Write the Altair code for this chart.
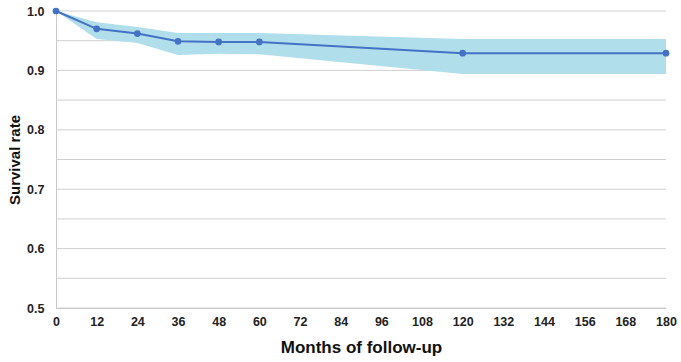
import altair as alt
import pandas as pd

# Follow-up time points (months) with survival estimate and confidence band
months = [0, 12, 24, 36, 48, 60, 120, 180]
survival = [1.000, 0.970, 0.962, 0.949, 0.948, 0.948, 0.929, 0.929]
ci_lower = [1.000, 0.953, 0.946, 0.926, 0.928, 0.927, 0.894, 0.894]
ci_upper = [1.000, 0.981, 0.973, 0.963, 0.963, 0.963, 0.953, 0.953]

x_ticks = list(range(0, 181, 12))
y_grid = [round(0.5 + 0.05 * i, 2) for i in range(11)]
y_labels = [0.5, 0.6, 0.7, 0.8, 0.9, 1.0]

df = pd.DataFrame({
    "month": months,
    "survival": survival,
    "lower": ci_lower,
    "upper": ci_upper,
})
grid_df = pd.DataFrame({"level": y_grid})

font = "Liberation Sans"
line_blue = "#4472c4"
band_blue = "#b1deeb"

x_scale = alt.Scale(domain=[0, 180], nice=False)
y_scale = alt.Scale(domain=[0.5, 1.0], nice=False, zero=False)

x_axis = alt.Axis(
    values=x_ticks,
    title="Months of follow-up",
    grid=False,
    ticks=False,
    labelPadding=7,
    labelFont=font,
    labelFontSize=12.5,
    labelFontWeight="bold",
    labelColor="#222222",
    titleFont=font,
    titleFontSize=17,
    titleFontWeight="bold",
    titleColor="#111111",
    titlePadding=12,
    domainColor="#c8c8c8",
    labelFlush=False,
)

y_axis = alt.Axis(
    values=y_labels,
    format=".1f",
    title="Survival rate",
    grid=False,
    ticks=False,
    labelPadding=12,
    labelFont=font,
    labelFontSize=12.5,
    labelFontWeight="bold",
    labelColor="#222222",
    labelOverlap=False,
    titleFont=font,
    titleFontSize=15,
    titleFontWeight="bold",
    titleColor="#111111",
    titlePadding=4,
    domainColor="#c8c8c8",
)

# Horizontal gridlines every 0.05
grid = alt.Chart(grid_df).mark_rule(color="#d0d0d0", strokeWidth=1).encode(
    y=alt.Y("level:Q", scale=y_scale, axis=y_axis),
)

band = alt.Chart(df).mark_area(color=band_blue, opacity=1).encode(
    x=alt.X("month:Q", scale=x_scale, axis=x_axis),
    y=alt.Y("lower:Q", scale=y_scale, axis=y_axis),
    y2="upper:Q",
)

line = alt.Chart(df).mark_line(color=line_blue, strokeWidth=2).encode(
    x=alt.X("month:Q", scale=x_scale, axis=x_axis),
    y=alt.Y("survival:Q", scale=y_scale, axis=y_axis),
)

points = alt.Chart(df).mark_point(
    color=line_blue, filled=True, opacity=1, size=45
).encode(
    x=alt.X("month:Q", scale=x_scale, axis=x_axis),
    y=alt.Y("survival:Q", scale=y_scale, axis=y_axis),
)

chart = (
    alt.layer(grid, band, line, points)
    .properties(
        width=610,
        height=297,
        autosize=alt.AutoSizeParams(type="none"),
        padding={"left": 56, "top": 11, "right": 15, "bottom": 54},
        background="white",
    )
    .configure_view(stroke=None)
)

chart.save("out.html", embed_options={"renderer": "svg", "actions": False})
